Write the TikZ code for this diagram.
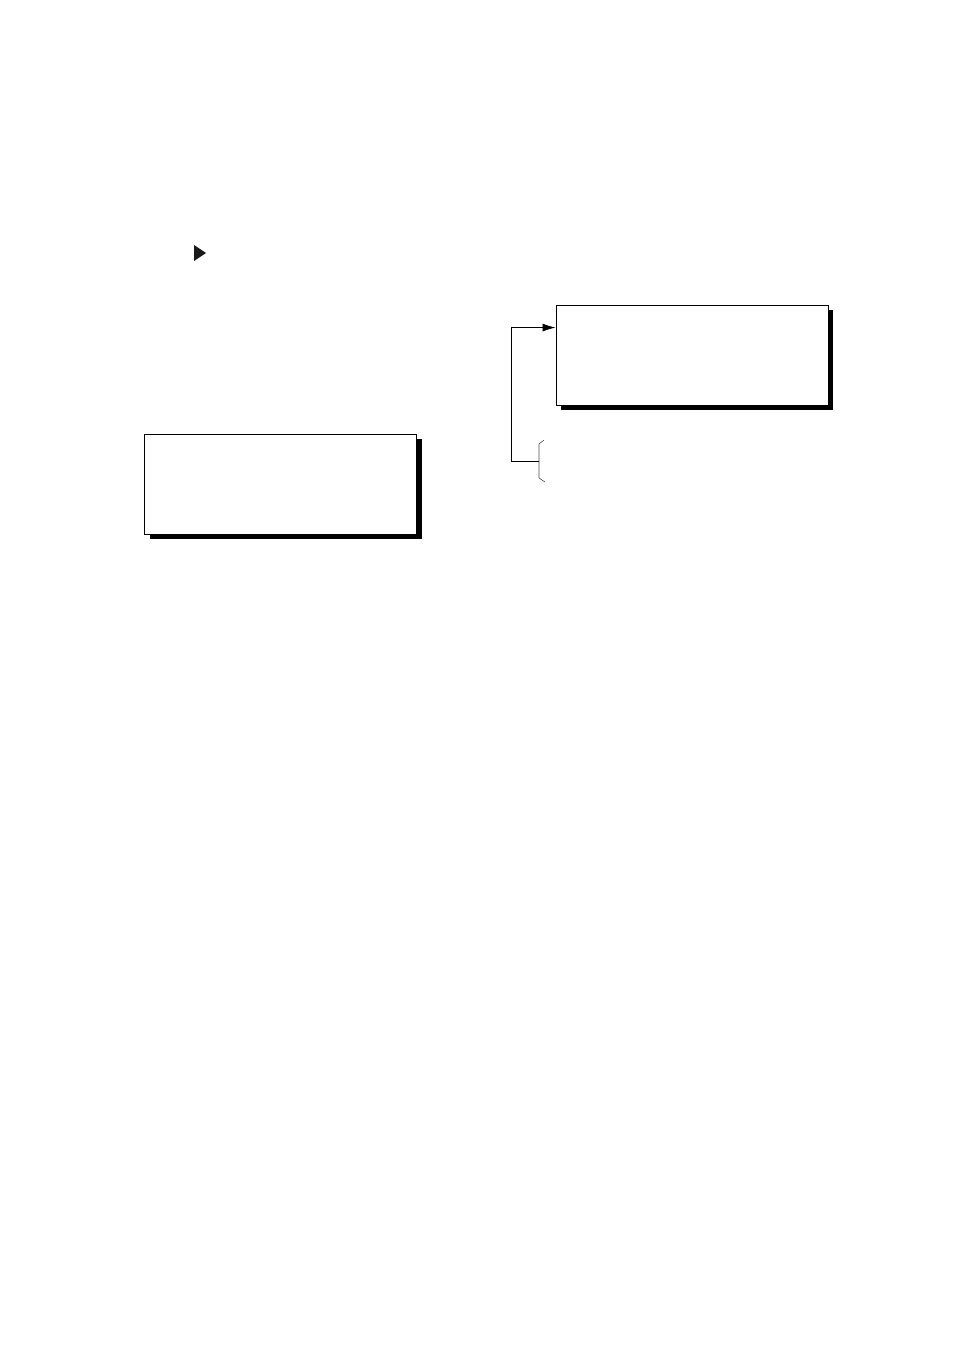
\documentclass[tikz,border=0pt]{standalone}
\usetikzlibrary{shadows,arrows.meta,calc}
\begin{document}
\begin{tikzpicture}[x=1pt,y=-1pt,
  panel/.style={draw=black,line width=0.9pt,fill=white,rectangle,minimum width=272pt,minimum height=100pt,inner sep=0pt,
    drop shadow={shadow xshift=5pt,shadow yshift=-5pt,fill=black,opacity=1}},
  link/.style={draw=black,line width=0.8pt},
  bracket/.style={draw=black!70,line width=0.6pt}]
\useasboundingbox (0,0) rectangle (954,1351);
% marker triangle
\fill[black!90] (194,245) -- (206,253) -- (194,261) -- cycle;
% boxes
\node[panel] (rbox) at (692,355) {};
\node[panel] (lbox) at (280.5,484) {};
% bracket
\coordinate (btop) at (544,440);
\coordinate (bbot) at (545,482);
\coordinate (bmid) at (539,461);
\draw[bracket] (btop) -- (539,444) -- (539,478) -- (bbot);
% connector
\coordinate (corner) at (511,461);
\coordinate (tgt) at ($(rbox.north west)+(0,23)$);
\draw[link,-{Latex[length=13pt,width=8pt]}] (bmid) -- (corner) |- (tgt);
\end{tikzpicture}
\end{document}
